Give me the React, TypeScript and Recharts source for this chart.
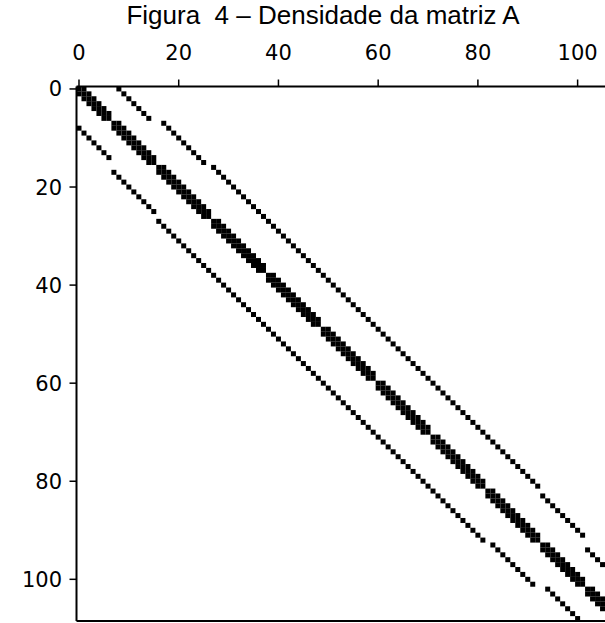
import { ScatterChart, Scatter, XAxis, YAxis, ReferenceLine } from "recharts";

// grid rows of the discretised domain (nodes per row), centred on an 11-wide grid
const rowWidths = [7, 9, 11, 11, 11, 11, 11, 11, 11, 9, 7];
const gridWidth = 11;
const xTicks = [0, 20, 40, 60, 80, 100];
const yTicks = [0, 20, 40, 60, 80, 100];
const titleText = "Figura  4 – Densidade da matriz A";

type Cell = { col: number; row: number };

// nonzeros of the 5-point stencil matrix on the grid above
function buildPattern(widths: number[]): { cells: Cell[]; n: number } {
    const index: Record<string, number> = {};
    const nodes: { r: number; x: number }[] = [];
    widths.forEach((w, r) => {
        const start = (gridWidth - w) / 2;
        for (let k = 0; k < w; k++) {
            index[`${r},${start + k}`] = nodes.length;
            nodes.push({ r, x: start + k });
        }
    });
    const cells: Cell[] = [];
    nodes.forEach((nd, i) => {
        const nbrs = [
            [nd.r, nd.x],
            [nd.r, nd.x - 1],
            [nd.r, nd.x + 1],
            [nd.r - 1, nd.x],
            [nd.r + 1, nd.x],
        ];
        for (const [r, x] of nbrs) {
            const j = index[`${r},${x}`];
            if (j !== undefined) cells.push({ row: i, col: j });
        }
    });
    return { cells, n: nodes.length };
}

const { cells, n } = buildPattern(rowWidths);
const MARK = 5;
const FONT = "DejaVu Sans, sans-serif";

function Square(props: any) {
    const { cx, cy } = props;
    return <rect x={cx - MARK / 2} y={cy - MARK / 2} width={MARK} height={MARK} fill="#000" />;
}

function TopTick(props: any) {
    const { x, payload } = props;
    return (
        <text x={x} y={60} textAnchor="middle" fontSize={21} fontFamily={FONT} fill="#000">
            {payload.value}
        </text>
    );
}

function LeftTick(props: any) {
    const { y, payload } = props;
    return (
        <text x={62} y={y + 7.5} textAnchor="end" fontSize={21} fontFamily={FONT} fill="#000">
            {payload.value}
        </text>
    );
}

export default function App() {
    const lo = -0.5;
    const hi = n - 0.5;
    return (
        <div style={{ position: "absolute", left: 0, top: 0, width: 605, height: 623, overflow: "hidden", background: "#fff" }}>
            <div
                style={{
                    position: "absolute",
                    top: 0,
                    left: 0,
                    width: 646,
                    textAlign: "center",
                    whiteSpace: "pre",
                    fontFamily: "Liberation Sans",
                    fontSize: 26,
                    lineHeight: "normal",
                    color: "#000",
                }}
            >
                {titleText}
            </div>
            <ScatterChart width={620} height={623} margin={{ top: 0, right: 0, left: 0, bottom: 2 }}>
                <XAxis
                    type="number"
                    dataKey="col"
                    orientation="top"
                    domain={[lo, hi]}
                    ticks={xTicks}
                    height={86.5}
                    tick={<TopTick />}
                    tickSize={7}
                    axisLine={{ stroke: "#000", strokeWidth: 2 }}
                    tickLine={{ stroke: "#000", strokeWidth: 1.5 }}
                    allowDataOverflow
                />
                <YAxis
                    type="number"
                    dataKey="row"
                    reversed
                    domain={[lo, hi]}
                    ticks={yTicks}
                    width={76.5}
                    tick={<LeftTick />}
                    tickSize={7}
                    axisLine={{ stroke: "#000", strokeWidth: 2 }}
                    tickLine={{ stroke: "#000", strokeWidth: 1.5 }}
                    allowDataOverflow
                />
                <ReferenceLine y={hi} stroke="#000" strokeWidth={2} />
                <ReferenceLine x={hi} stroke="#000" strokeWidth={2} />
                <Scatter data={cells} shape={<Square />} isAnimationActive={false} />
            </ScatterChart>
        </div>
    );
}
